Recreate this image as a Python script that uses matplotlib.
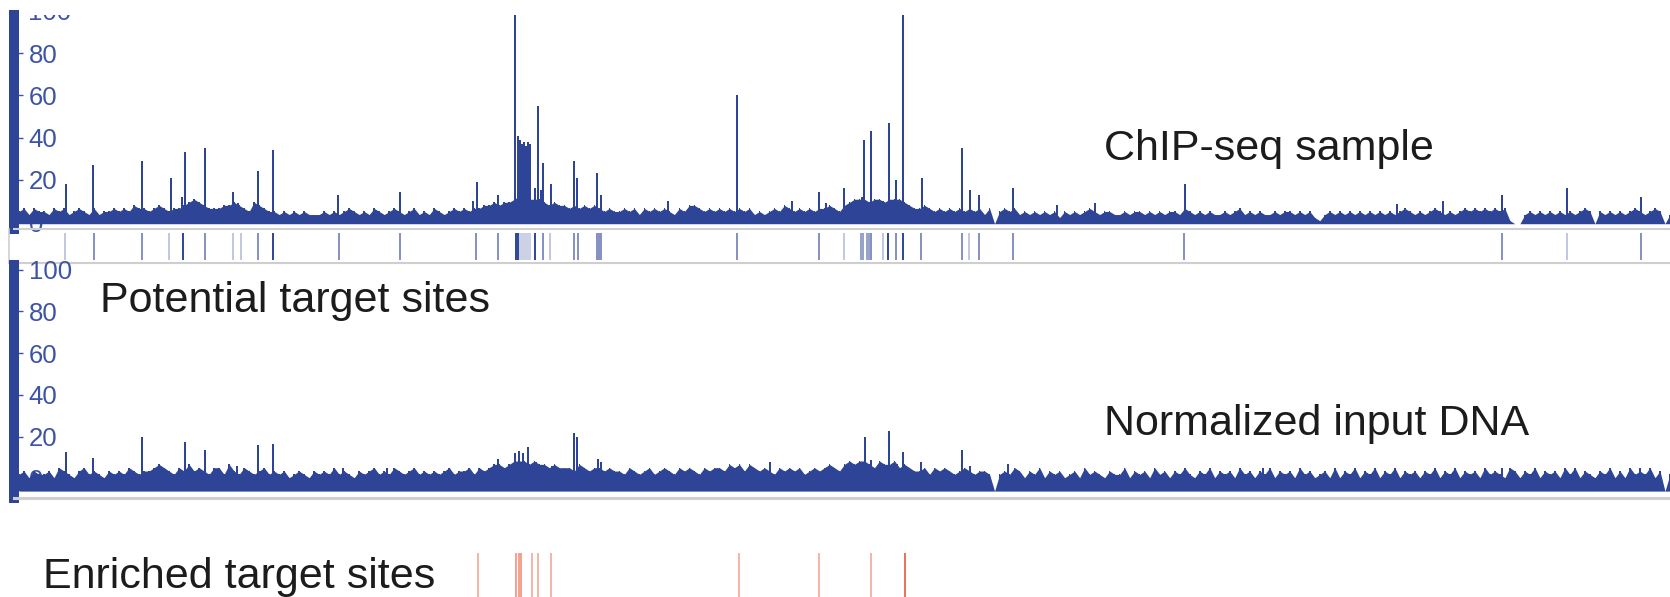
import numpy as np
import matplotlib
matplotlib.use("Agg")
import matplotlib.pyplot as plt

plt.rcParams['font.family'] = ['Liberation Sans', 'DejaVu Sans']

# ---- data (positions in browser bins, heights in read-count units) ----
# background coverage, one digit per 5-bin step, height above the track floor
NOISE_UNIT_CHIP = 1.45   # counts per digit
NOISE_UNIT_INPUT = 1.6
chip_noise = ("4535443545" "3454353445" "4546554565" "4556787655" "5667654765"
              "4434343433" "3434345434" "3543454345" "3435434545" "4556676778"
              "9988876766" "5656565454" "4545354545" "4354665454" "5454545343"
              "4546545454" "5565467888" "7887888765" "5654545454" "5453504545"
              "3434343424" "3434543443" "3434434343" "4435434343" "3434534343"
              "3434434342" "1343434343" "4343434543" "4345434345" "4545454510"
              "0343434343" "4345404343" "4345434540" "3")
input_noise = ("5646556476" "5467565465" "6576566787" "6576867657" "7586576567"
               "5656456546" "5657565465" "6756576567" "5656567566" "7576788789"
               "9989887877" "7687677676" "6576567567" "6576765767" "7687868767"
               "6576767567" "6787689899" "8798897876" "6757676567" "6566505657"
               "6465746564" "5647565465" "5746564756" "4657546574" "6564756465"
               "7465647564" "5647465746" "5746574656" "4657465746" "5647565476"
               "4657465647" "5746546574" "6475657460" "5")

chip_pos = [66, 93, 142, 171, 182, 185, 205, 233, 238, 258,
            273, 338, 400, 473, 477, 498, 515, 518, 520, 522,
            524, 526, 528, 530, 535, 538, 541, 543, 551, 574,
            577, 597, 601, 668, 737, 792, 819, 826, 844, 862,
            864, 871, 883, 889, 896, 903, 922, 962, 970, 979,
            1013, 1057, 1095, 1185, 1397, 1443, 1502, 1567, 1641]
chip_val = [18, 27, 29, 21, 12, 33, 35, 14, 9, 24,
            34, 13, 14, 10, 19, 13, 100, 41, 39, 37,
            38, 36, 38, 37, 16, 55, 15, 28, 18, 29,
            21, 23, 13, 10, 60, 10, 14, 9, 16, 12,
            39, 43, 10, 47, 20, 100, 21, 35, 15, 13,
            16, 8, 9, 18, 8.5, 10, 13, 16, 12]

input_pos = [66, 93, 142, 185, 205, 237, 258, 273, 343, 387,
             498, 515, 519, 523, 528, 536, 543, 552, 574, 577,
             598, 601, 753, 770, 833, 865, 871, 889, 897, 903,
             921, 962, 970, 1008, 1263, 1502, 1640]
input_val = [12.5, 10, 20, 17.5, 13.5, 6, 16, 16.7, 5, 5,
             9.5, 12, 13, 12, 15, 8, 6, 6, 22, 20,
             9.5, 8, 5, 8, 4, 20, 9, 23, 7, 12.5,
             8, 13.5, 6, 7, 5, 5, 5]

site_pos = [65, 94, 142, 169, 183, 205, 233, 241, 258,
            273, 339, 400, 476, 498, 515.5, 518, 520, 522, 524,
            526, 528, 530, 535, 543, 550, 574, 578, 597,
            599, 601, 737, 819, 844, 861, 863, 867, 869, 871,
            883, 888, 896, 903, 921, 962, 969, 979, 1013,
            1184, 1502, 1567, 1641]
site_score = [0.3, 0.6, 0.6, 0.3, 1, 0.6, 0.3, 0.3, 0.6,
              1, 0.6, 0.6, 0.6, 0.6, 1, 1, 0.25, 0.25, 0.25,
              0.25, 0.25, 0.25, 1, 0.6, 0.3, 0.6, 0.6, 0.6,
              0.6, 0.6, 0.6, 0.6, 0.3, 0.5, 0.5, 0.5, 0.5, 0.6,
              0.3, 1, 0.6, 1, 0.6, 0.6, 0.3, 0.6, 0.6,
              0.6, 0.6, 0.3, 0.6]

enriched_pos = [477.6, 516, 518.5, 521, 531.5, 537.7, 551, 739, 818.7, 871.4, 904.5]
enriched_strong = [0, 1, 1, 1, 0, 0, 0, 0, 0, 0, 2]

yticks = [0, 20, 40, 60, 80, 100]

# ---- layout helpers (pixels) ----
W, H = 1670, 597
BLUE = '#2e4597'
TICKC = '#3d53a6'
GRAY = '#cfcfcf'


def rect(x0, y0, x1, y1):
    return [x0 / W, 1 - y1 / H, (x1 - x0) / W, (y1 - y0) / H]


fig = plt.figure(figsize=(W / 100, H / 100), dpi=100)


def draw_track(ax, noise, unit, pos, val, base, ylim):
    x = np.linspace(19, 1670, len(noise))
    d = np.array([int(c) for c in noise], dtype=float) * unit
    ax.fill_between(x, base, base + d, color=BLUE, lw=0, zorder=1)
    ax.bar(x, d, bottom=base, width=1.6, color=BLUE, lw=0, zorder=1)
    ax.bar(pos, np.array(val) - base, bottom=base, width=2.8, color=BLUE, lw=0, zorder=1)
    ax.set_xlim(14, 1670)
    ax.set_ylim(*ylim)
    ax.set_axisbelow(True)
    for s in ['top', 'right']:
        ax.spines[s].set_visible(False)
    ax.spines['left'].set_color(BLUE)
    ax.spines['left'].set_linewidth(7.2)
    ax.set_xticks([])
    ax.set_yticks([t for t in yticks if ylim[0] <= t <= ylim[1]])
    ax.tick_params(axis='y', direction='in', length=6.5, width=1, color=TICKC,
                   labelcolor=TICKC, labelsize=18.5, pad=-10.5)
    for lab in ax.get_yticklabels():
        lab.set_ha('left')


# ChIP-seq track
ax1 = fig.add_axes(rect(14, 15, 1670, 229))
draw_track(ax1, chip_noise, NOISE_UNIT_CHIP, chip_pos, chip_val, -0.8, (-3.3, 98.1))
ax1.spines['bottom'].set_color(GRAY)
ax1.spines['bottom'].set_linewidth(1.5)
ax1.text(28, 100, '100', color=TICKC, fontsize=18.5, ha='left',
         va='center_baseline', clip_on=True, zorder=0.5)

# potential target sites strip
ax_s = fig.add_axes(rect(9, 229, 1670, 263))
for p, sc in zip(site_pos, site_score):
    ax_s.vlines(p, 0.09, 0.88, color=BLUE, alpha=sc, lw=1.4)
ax_s.set_xlim(9, 1670)
ax_s.set_ylim(0, 1)
ax_s.set_xticks([])
ax_s.set_yticks([])
for s in ['top', 'right']:
    ax_s.spines[s].set_visible(False)
ax_s.spines['left'].set_color(GRAY)
ax_s.spines['left'].set_linewidth(1.2)
ax_s.spines['bottom'].set_color(GRAY)
ax_s.spines['bottom'].set_linewidth(1.5)
ax_s.patch.set_alpha(0)

# normalized input track
ax2 = fig.add_axes(rect(14, 265, 1670, 498))
draw_track(ax2, input_noise, NOISE_UNIT_INPUT, input_pos, input_val, -6, (-9.3, 102.2))
ax2.spines['bottom'].set_color(GRAY)
ax2.spines['bottom'].set_linewidth(2.2)

# enriched target sites
ax_e = fig.add_axes(rect(9, 553, 1670, 597))
red_cols = ['#f4a898', '#f0907a', '#e45a36']
for p, st in zip(enriched_pos, enriched_strong):
    ax_e.vlines(p, 0, 1, color=red_cols[st], lw=1.2)
ax_e.set_xlim(9, 1670)
ax_e.set_ylim(0, 1)
ax_e.axis('off')

# track labels
TXT = '#1c1c1c'
fig.text(1104 / W, 1 - 160 / H, 'ChIP-seq sample', fontsize=31, color=TXT, va='baseline')
fig.text(100 / W, 1 - 312 / H, 'Potential target sites', fontsize=31, color=TXT, va='baseline')
fig.text(1104 / W, 1 - 435 / H, 'Normalized input DNA', fontsize=31, color=TXT, va='baseline')
fig.text(43 / W, 1 - 588 / H, 'Enriched target sites', fontsize=31, color=TXT, va='baseline')

fig.savefig('out.png', dpi=100)
